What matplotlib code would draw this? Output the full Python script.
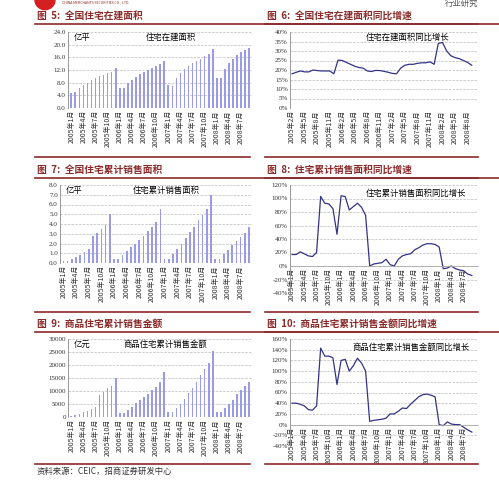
import numpy as np
import matplotlib.pyplot as plt

plt.rcParams['font.family'] = ['Noto Sans CJK SC', 'DejaVu Sans']

# ---- data ----
months45 = [f"{y}年{m}月" for y in range(2005, 2009) for m in range(1, 13)][:45]
months44 = months45[1:]

area_build = [4.8, 4.9, 6.3, 7.2, 8.0, 9.0, 9.5, 10.0, 10.5, 11.0, 11.5, 12.7,
              6.2, 6.2, 7.9, 8.9, 9.8, 10.7, 11.3, 12.0, 12.7, 13.3, 13.8, 15.0,
              7.2, 7.1, 9.6, 11.0, 12.2, 13.3, 14.2, 14.9, 15.6, 16.3, 17.0, 18.7,
              9.6, 9.6, 12.3, 14.1, 15.4, 16.8, 17.6, 18.4, 19.1]
build_yoy = [18, 18.8, 19.5, 19, 19, 20, 19.7, 19.5, 19.5, 19.5, 18,
             25.2, 25, 24, 23, 22, 21.3, 21, 19.5, 19.2, 19.8, 19.7, 19.3,
             18.8, 18.2, 18, 21, 22.5, 23, 23, 23.5, 23.8, 23.8, 24.3, 23,
             34, 34.5, 30, 27.5, 26.5, 26, 25, 24, 22.5]
area_sold = [0.2, 0.2, 0.4, 0.6, 0.8, 1.1, 1.4, 2.8, 3.1, 3.5, 3.9, 5.0,
             0.4, 0.4, 0.8, 1.2, 1.6, 2.0, 2.4, 2.8, 3.3, 3.7, 4.2, 5.5,
             0.4, 0.4, 0.9, 1.4, 1.9, 2.6, 3.2, 3.7, 4.4, 4.9, 5.5, 7.0,
             0.4, 0.4, 0.9, 1.3, 1.8, 2.3, 2.7, 3.1, 3.7]
sold_yoy = [17, 17, 21, 18, 15, 14, 20, 103, 93, 92, 85, 47,
            104, 103, 83, 88, 93, 87, 75, 0, 3, 4, 5, 10,
            2, 0, 10, 15, 17, 18, 24, 27, 31, 33, 33, 32,
            28, -4, -3, 0, -4, -6, -7, -12, -14]
amount_sold = [500, 700, 1100, 1900, 2500, 3100, 4000, 8400, 9500, 11000, 12000, 15000,
               1400, 1400, 2700, 3900, 5200, 6600, 7800, 9000, 10300, 11700, 13500, 17200,
               2000, 2000, 3400, 5000, 6900, 9200, 11000, 13500, 16000, 18300, 20700, 25300,
               1900, 1900, 3600, 5000, 6600, 9000, 10500, 11800, 13300]
amount_yoy = [40, 40, 38, 35, 28, 27, 35, 143, 128, 128, 125, 75,
              120, 122, 100, 110, 124, 115, 100, 6, 8, 9, 10, 12,
              20, 20, 25, 31, 30, 38, 45, 52, 56, 57, 55, 52,
              0, -2, 5, 1, 0, 0, -5, -10, -14]

W, H = 499, 483
fig = plt.figure(figsize=(W / 100, H / 100), dpi=100)
RED = '#8b2a2a'
BAR = '#9a9ae6'
LINE = '#333388'

def ax_px(x0, y0, x1, y1):
    return fig.add_axes([x0 / W, 1 - y1 / H, (x1 - x0) / W, (y1 - y0) / H])

def style(ax, labels):
    for s in ax.spines.values():
        s.set_visible(False)
    ax.spines['left'].set_visible(True)
    ax.spines['left'].set_color('#888888')
    ax.spines['left'].set_linewidth(0.6)
    ax.grid(axis='y', ls='--', color='#bbbbbb', lw=0.5)
    ax.set_axisbelow(True)
    ax.tick_params(labelsize=5, length=0, pad=1.5, colors='#333333')
    ax.set_xticks(range(0, len(labels), 3))
    ax.set_xticklabels(labels[::3], rotation=90, fontsize=5)

def bar_panel(box, vals, ylim, step, fmt, unit, name, namex):
    ax = ax_px(*box)
    x = np.arange(len(vals))
    ax.bar(x, vals, width=0.4, color=BAR)
    ax.set_xlim(-0.8, len(vals) - 0.3)
    ax.set_ylim(*ylim)
    ax.set_yticks(np.arange(ylim[0], ylim[1] + step / 2, step))
    ax.set_yticklabels([fmt.format(v) for v in ax.get_yticks()], family='Liberation Serif')
    style(ax, months45)
    ax.text(0.03, 0.9, unit, transform=ax.transAxes, fontsize=6)
    ax.text(namex, 0.9, name, transform=ax.transAxes, fontsize=6)

def line_panel(box, vals, labels, ylim, step, name, namex):
    ax = ax_px(*box)
    x = np.arange(len(vals))
    ax.plot(x, vals, color=LINE, lw=0.9)
    ax.set_xlim(-0.5, len(vals) + 0.5)
    ax.set_ylim(*ylim)
    if ylim[0] < 0:
        ax.spines['bottom'].set_position(('data', 0))
    style(ax, labels)
    if ylim[0] < 0:
        ax.spines['bottom'].set_visible(True)
        ax.spines['bottom'].set_color('#aaaaaa')
        ax.spines['bottom'].set_linewidth(0.6)
    ticks = np.arange(ylim[0], ylim[1] + step / 2, step)
    ax.set_yticks(ticks)
    ax.set_yticklabels([f"{int(t)}%" for t in ticks], family='Liberation Serif')
    ax.text(namex, 0.9, name, transform=ax.transAxes, fontsize=6)

def title(x0, x1, y, txt):
    fig.text(x0 / W + 0.005, 1 - y / H, txt, fontsize=7, color=RED, weight='bold', va='center')
    fig.add_artist(plt.Line2D([x0 / W, x1 / W], [1 - (y + 8) / H] * 2, color=RED, lw=1.2))

def bottom_line(x0, x1, y):
    fig.add_artist(plt.Line2D([x0 / W, x1 / W], [1 - y / H] * 2, color=RED, lw=1.2))

# header
fig.add_artist(plt.Circle((45 / W, 1 - 0 / H), 10 / W, color='#d42020', transform=fig.transFigure))
fig.text(62 / W, 1 - 2 / H, 'CHINA MERCHANTS SECURITIES CO., LTD.', fontsize=2.5, color=RED, va='center')
fig.text(445 / W, 1 - 3 / H, '行业研究', fontsize=6, color='#555555', va='center')

title(35, W, 16, '图  5:  全国住宅在建面积')
title(265, 478, 16, '图  6:  全国住宅在建面积同比增速')
title(35, W, 170, '图  7:  全国住宅累计销售面积')
title(265, 478, 170, '图  8:  住宅累计销售面积同比增速')
title(35, W, 324, '图  9:  商品住宅累计销售金额')
title(265, 478, 324, '图  10:  商品住宅累计销售金额同比增速')
for y in (157, 312):
    bottom_line(35, 250, y)
    bottom_line(265, 478, y)
bottom_line(35, 250, 464)
bottom_line(265, 478, 464)
fig.text(37 / W, 1 - 471 / H, '资料来源：CEIC，招商证券研发中心', fontsize=6, color='#333333', va='center')

bar_panel((68, 32, 252, 108), area_build, (0, 24), 4, '{:.1f}', '亿平', '住宅在建面积', 0.42)
line_panel((290, 32, 478, 108), build_yoy, months44, (0, 40), 5, '住宅在建面积同比增长', 0.4)
bar_panel((60, 185, 252, 263), area_sold, (0, 8), 1, '{:.1f}', '亿平', '住宅累计销售面积', 0.38)
line_panel((290, 185, 478, 293), sold_yoy, months45, (-40, 120), 20, '住宅累计销售面积同比增长', 0.4)
bar_panel((68, 339, 252, 417), amount_sold, (0, 30000), 5000, '{:.0f}', '亿元', '商品住宅累计销售金额', 0.3)
line_panel((290, 339, 478, 446), amount_yoy, months45, (-40, 160), 20, '商品住宅累计销售金额同比增长', 0.33)

fig.savefig('out.png', dpi=100)
